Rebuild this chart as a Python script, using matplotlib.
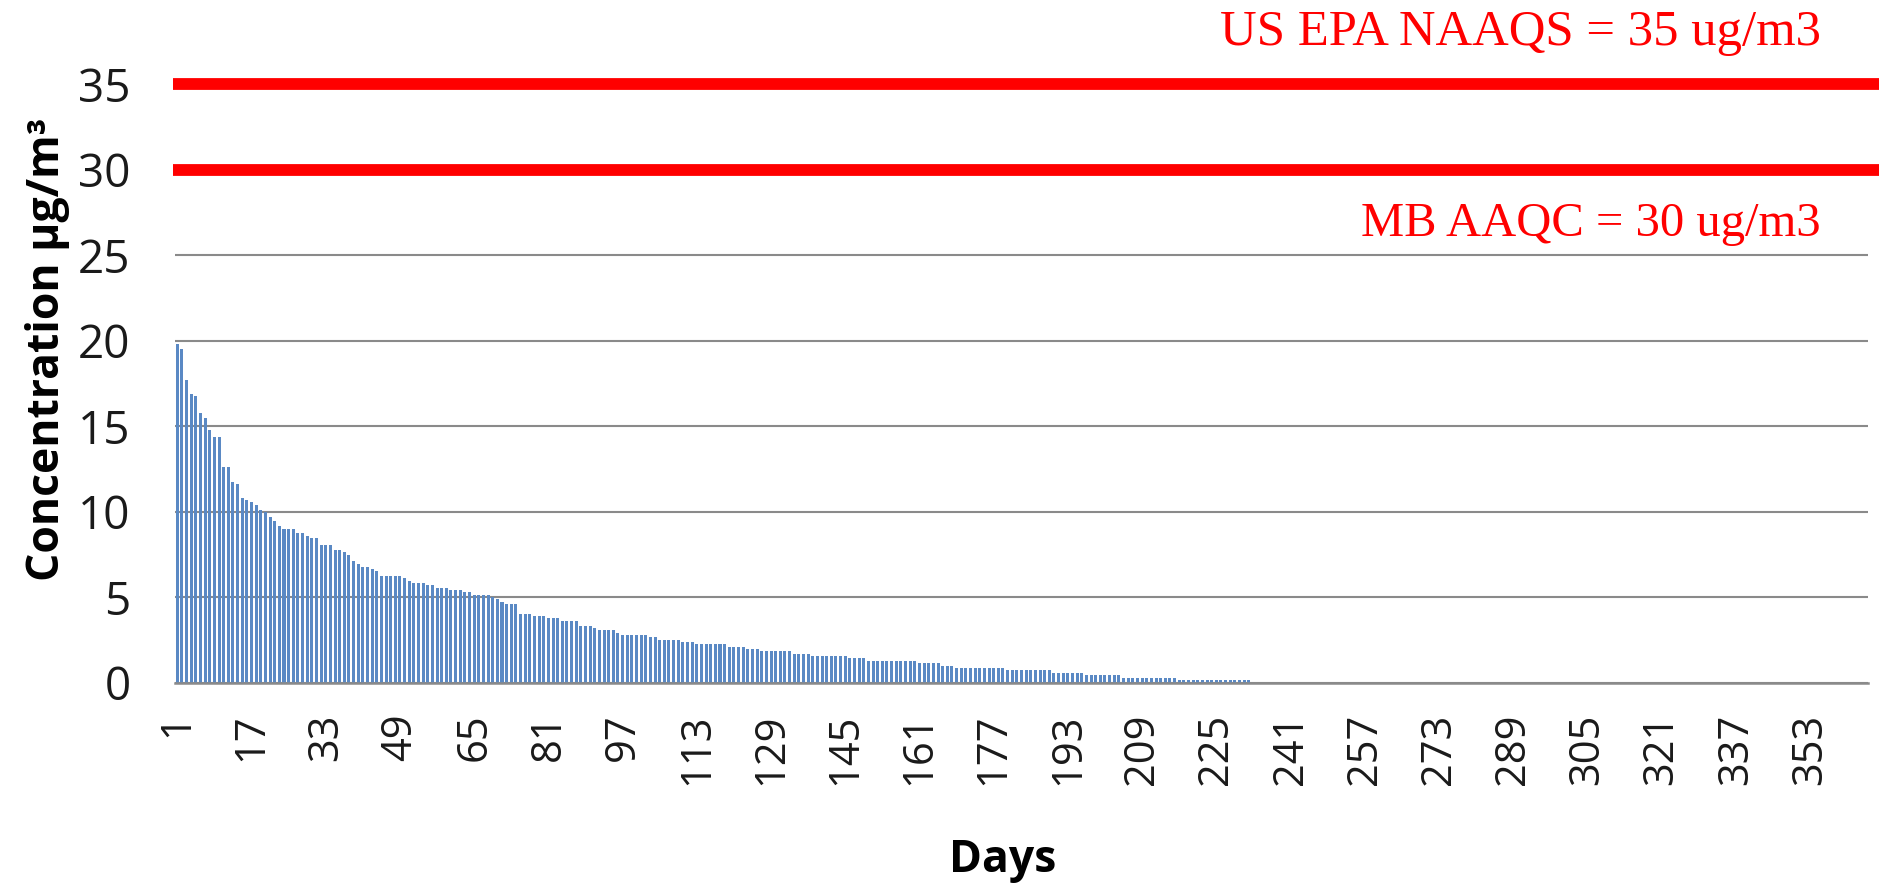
import matplotlib
matplotlib.use("Agg")
import matplotlib.pyplot as plt
import matplotlib.transforms as mtransforms

# Daily PM2.5 concentrations (ug/m3), ranked from highest to lowest
days = list(range(1, 366))
conc_top = [
    19.8, 19.5, 17.7, 16.9, 16.75, 15.8, 15.5, 14.8, 14.4, 14.4,
    12.6, 12.6, 11.75, 11.6, 10.8, 10.7, 10.55, 10.4, 10.1, 10.0,
    9.7, 9.45, 9.2, 9.0, 9.0, 9.0, 8.75, 8.75, 8.6, 8.45,
    8.45, 8.07, 8.07, 8.07, 7.8, 7.8, 7.65, 7.5, 7.1, 6.96,
    6.8, 6.8,
]
conc_mid = [
    6.67, 6.53, 6.26, 6.26, 6.26, 6.26, 6.26, 6.12, 5.98, 5.85,
    5.85, 5.85, 5.71, 5.71, 5.57, 5.57, 5.57, 5.44, 5.44, 5.44,
    5.30, 5.30, 5.16, 5.16, 5.16, 5.16, 5.05, 4.93, 4.74, 4.60,
    4.60, 4.60, 4.05, 4.05, 4.05, 3.92, 3.92, 3.92, 3.78, 3.78,
    3.78, 3.65, 3.65, 3.65, 3.65, 3.35, 3.35, 3.35, 3.22, 3.08,
    3.08, 3.08, 3.08, 2.94, 2.81, 2.81, 2.81, 2.81, 2.81, 2.81,
    2.67, 2.67,
]
conc_low = [
    2.53, 2.53, 2.53, 2.53, 2.53, 2.40, 2.40, 2.40, 2.26, 2.26,
    2.26, 2.26, 2.26, 2.26, 2.26, 2.12, 2.12, 2.12, 2.12, 1.99,
    1.99, 1.99, 1.85, 1.85, 1.85, 1.85, 1.85, 1.85, 1.85, 1.71,
    1.71, 1.71, 1.71, 1.58, 1.58, 1.58, 1.58, 1.58, 1.58, 1.58,
    1.58, 1.44, 1.44, 1.44, 1.44, 1.30, 1.30, 1.30, 1.30, 1.30,
    1.30, 1.30, 1.30, 1.30, 1.30, 1.30, 1.17, 1.17, 1.17, 1.17,
    1.17, 1.01, 1.01, 1.01, 0.88, 0.88, 0.88, 0.88, 0.88, 0.88,
    0.88, 0.88, 0.88, 0.88, 0.88, 0.74, 0.74, 0.74, 0.74, 0.74,
    0.74, 0.74, 0.74, 0.74, 0.74, 0.60, 0.60, 0.60, 0.60, 0.60,
    0.60, 0.60, 0.45, 0.45, 0.45, 0.45, 0.45, 0.45, 0.45, 0.45,
    0.31, 0.31, 0.31, 0.31, 0.31, 0.31, 0.31, 0.31, 0.31, 0.31,
    0.31, 0.31, 0.18, 0.18, 0.18, 0.18, 0.18, 0.18, 0.18, 0.18,
    0.18, 0.18, 0.18, 0.18, 0.18, 0.18, 0.18, 0.18,
]
conc = conc_top + conc_mid + conc_low
conc = conc + [0.0] * (len(days) - len(conc))

x_ticks = list(range(1, 366, 16))
y_ticks = [0, 5, 10, 15, 20, 25, 30, 35]

# Air quality standards
std_us = 35
std_mb = 30
label_us = "US EPA NAAQS = 35 ug/m3"
label_mb = "MB AAQC = 30 ug/m3"

W, H = 1881, 893
fig = plt.figure(figsize=(W / 100, H / 100), dpi=100)
left, right, bottom, top = 175, 1868, 683, 84
ax = fig.add_axes([left / W, 1 - bottom / H, (right - left) / W, (bottom - top) / H])

ax.bar(days, conc, width=0.65, color="#5A89C4", zorder=2)

ax.set_xlim(0.5, 365.5)
ax.set_ylim(0, 35)
ax.set_yticks(y_ticks)
ax.set_xticks(x_ticks)
ax.set_xticklabels([str(d) for d in x_ticks], rotation=90)

ax.yaxis.grid(True, color="#8a8a8a", linewidth=1.5, zorder=0)
ax.set_axisbelow(True)
for s in ("top", "left", "right"):
    ax.spines[s].set_visible(False)
ax.spines["bottom"].set_color("#8a8a8a")
ax.spines["bottom"].set_linewidth(1.8)

ax.tick_params(axis="y", length=0, pad=32, labelsize=33, labelcolor="#1a1a1a")
ax.tick_params(axis="x", length=0, pad=22, labelsize=30, labelcolor="#1a1a1a")
for lab in ax.get_xticklabels() + ax.get_yticklabels():
    lab.set_fontfamily("Open Sans")

# Standard lines drawn slightly past the plot area
trans = mtransforms.blended_transform_factory(ax.transAxes, ax.transData)
for level in (std_us, std_mb):
    ax.plot([-0.0014, 1.0065], [level, level], transform=trans, color="#FF0000",
            linewidth=8.5, solid_capstyle="butt", clip_on=False, zorder=5)

ax.text(0.9722, 37.25, label_us, transform=trans, ha="right", va="baseline",
        color="#FF0000", fontsize=36.5, family="Liberation Serif", clip_on=False)
ax.text(0.9722, 26.12, label_mb, transform=trans, ha="right", va="baseline",
        color="#FF0000", fontsize=35, family="Liberation Serif")

fig.text(48 / W, 1 - 349 / H, "Concentration µg/m³", rotation=90, ha="center",
         va="center", fontsize=32, fontweight="bold", family="Open Sans", color="#000000")
fig.text(1003 / W, 1 - 872 / H, "Days", ha="center", va="baseline",
         fontsize=32, fontweight="bold", family="Open Sans", color="#000000")

fig.savefig("out.png", dpi=100, facecolor="white")
